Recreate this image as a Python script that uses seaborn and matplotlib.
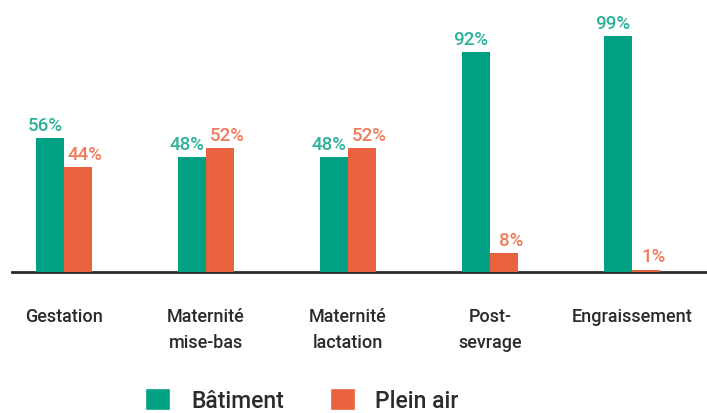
import pandas as pd
import numpy as np
import matplotlib
matplotlib.use("Agg")
import matplotlib.pyplot as plt
import seaborn as sns
from matplotlib.patches import Patch

# --- Data ---
categories = ["Gestation", "Maternité\nmise-bas", "Maternité\nlactation", "Post-\nsevrage", "Engraissement"]
batiment = [56, 48, 48, 92, 99]
plein_air = [44, 52, 52, 8, 1]
series = ["Bâtiment", "Plein air"]

# --- Style ---
GREEN = "#00A082"
ORANGE = "#E8623F"
GREEN_TXT = "#2BB39A"
ORANGE_TXT = "#F07B5A"
TXT_DARK = "#2B2B2B"

sns.set_theme(style="white")
plt.rcParams['font.family'] = ['Roboto', 'DejaVu Sans']

df = pd.DataFrame({
    "cat": categories * 2,
    "val": batiment + plein_air,
    "serie": [series[0]] * len(categories) + [series[1]] * len(categories),
})

fig = plt.figure(figsize=(7.07, 4.14), dpi=100)
ax = fig.add_axes([12 / 707, 141 / 414, 695 / 707, 253 / 414])

sns.barplot(data=df, x="cat", y="val", hue="serie", hue_order=series,
            palette=[GREEN, ORANGE], width=0.4, gap=0, saturation=1,
            linewidth=0, legend=False, ax=ax, zorder=3)

ax.set_xlim(-0.366, 4.528)
ax.set_ylim(0, 106)

# value labels
for cont, vals, col, dx in zip(ax.containers, [batiment, plein_air],
                               [GREEN_TXT, ORANGE_TXT], [-3.5, 5]):
    for bar, v in zip(cont, vals):
        ax.annotate(f"{v}%", (bar.get_x() + bar.get_width() / 2, bar.get_height()),
                    xytext=(dx, 3), textcoords="offset points",
                    ha="center", va="bottom", color=col, fontsize=13.5,
                    fontweight="medium")

for s in ["top", "right", "left"]:
    ax.spines[s].set_visible(False)
ax.spines["bottom"].set_color("#2B2B2B")
ax.spines["bottom"].set_linewidth(2)
ax.spines["bottom"].set_zorder(2)
ax.set_yticks([])
ax.set_xlabel("")
ax.set_ylabel("")
ax.tick_params(axis="x", length=0, pad=25, labelsize=13, colors=TXT_DARK)
for lbl in ax.get_xticklabels():
    lbl.set_linespacing(1.6)
    lbl.set_verticalalignment("top")
    lbl.set_fontweight("medium")

handles = [Patch(facecolor=GREEN, label=series[0]), Patch(facecolor=ORANGE, label=series[1])]
fig.legend(handles=handles, loc="center", bbox_to_anchor=(302 / 707, 1 - 401 / 414),
           ncol=2, frameon=False, handlelength=1.1, handleheight=1.1,
           handletextpad=0.9, columnspacing=2.0, labelcolor=TXT_DARK,
           prop={"weight": "medium", "size": 16.5})

fig.savefig("out.png", dpi=100)
